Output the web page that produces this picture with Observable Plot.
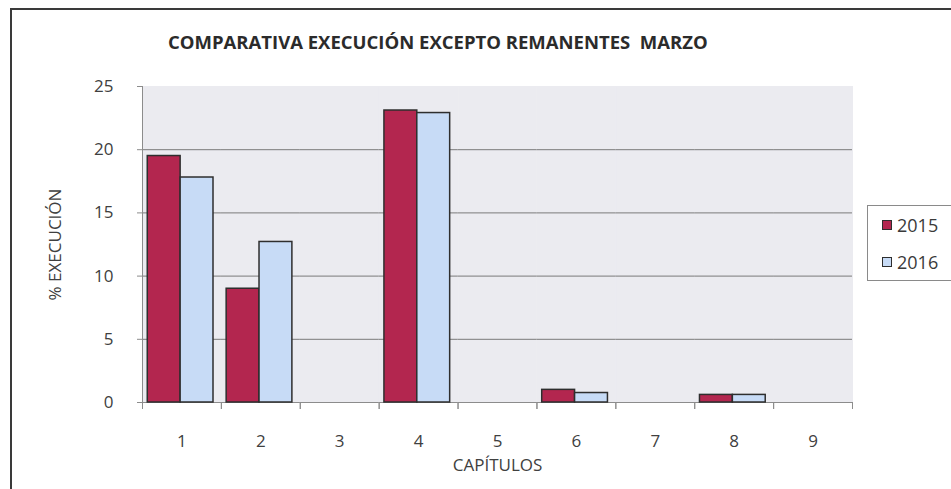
<!DOCTYPE html>
<html>
<head>
<meta charset="utf-8">
<script src="https://cdn.jsdelivr.net/npm/d3@7"></script>
<script src="https://cdn.jsdelivr.net/npm/@observablehq/plot@0.6"></script>
<style>
  html, body { margin: 0; padding: 0; background: #fff; }
  #wrap { position: relative; width: 951px; height: 489px; overflow: hidden; font-family: "Liberation Sans Narrow", "Open Sans", sans-serif; }
  #border { position: absolute; left: 10px; top: 8px; width: 1200px; height: 800px; border: 2px solid #3a3a3a; box-sizing: border-box; }
  #chart { position: absolute; left: 0; top: 0; }
  #title { position: absolute; left: 168px; top: 29px; font-weight: bold; font-size: 18.5px; color: #2b2b2b; white-space: pre; }
  #legend { position: absolute; left: 867px; top: 205px; width: 120px; height: 76px; border: 1px solid #8a8a8a; background: #fff; box-sizing: border-box; }
  .item { position: absolute; left: 14px; display: flex; align-items: center; font-size: 18px; color: #3a3a3a; font-family: "Open Sans", sans-serif; }
  .sw { width: 8px; height: 8px; border: 1.5px solid #2e2e2e; margin-right: 5px; }
</style>
</head>
<body>
<div id="wrap">
  <div id="border"></div>
  <div id="chart"></div>
  <div id="title"></div>
  <div id="legend"></div>
</div>
<script>
const title = "COMPARATIVA EXECUCIÓN EXCEPTO REMANENTES  MARZO";
const capitulos = [1, 2, 3, 4, 5, 6, 7, 8, 9];
const years = ["2015", "2016"];
const values2015 = [19.5, 9.0, null, 23.1, null, 1.0, null, 0.6, null];
const values2016 = [17.8, 12.7, null, 22.9, null, 0.75, null, 0.6, null];
const yTicks = [0, 5, 10, 15, 20, 25];
const colors = ["#b3264f", "#c7dbf6"];

const rows = [];
capitulos.forEach((c, i) => {
  if (values2015[i] != null) rows.push({cap: c, year: "2015", value: values2015[i]});
  if (values2016[i] != null) rows.push({cap: c, year: "2016", value: values2016[i]});
});

document.getElementById("title").textContent = title;

const plot = Plot.plot({
  width: 951,
  height: 489,
  marginLeft: 142,
  marginRight: 99,
  marginTop: 86,
  marginBottom: 87,
  style: {fontFamily: "'Open Sans', sans-serif", fontSize: "16px", color: "#3a3a3a", background: "transparent"},
  fx: {domain: capitulos, padding: 0, round: false},
  x: {domain: years, paddingInner: 0, paddingOuter: 0.2, align: 0.4, round: false, axis: null},
  y: {domain: [0, 25]},
  color: {domain: years, range: colors},
  marks: [
    Plot.frame({fill: "#ebebf0", stroke: "#ebebf0", strokeWidth: 1}),
    Plot.gridY([5, 10, 15, 20], {stroke: "#7a7a7a", strokeOpacity: 1}),
    Plot.ruleY(capitulos, {fx: d => d, y: 0, stroke: "#8c8c8c", strokeWidth: 1.2}),
    Plot.frame({anchor: "left", insetTop: 316, insetBottom: -6, stroke: "#8c8c8c"}),
    Plot.frame({anchor: "right", insetTop: 316, insetBottom: -6, stroke: "#8c8c8c"}),
    Plot.frame({anchor: "left", facetAnchor: "left", stroke: "#8c8c8c"}),
    Plot.barY(rows, {fx: "cap", x: "year", y: "value", fill: "year", stroke: "#2e2e2e", strokeWidth: 1.5}),
    Plot.axisY({ticks: yTicks, tickSize: 5, tickPadding: 24, stroke: "#8c8c8c", fill: "#404040", fontSize: 17,
      label: "% EXECUCIÓN", labelAnchor: "center", labelOffset: 94, labelArrow: "none"}),
    Plot.axisFx({anchor: "bottom", tickSize: 0, tickPadding: 32, fill: "#404040", fontSize: 17,
      label: "CAPÍTULOS", labelAnchor: "center", labelOffset: 68, labelArrow: "none"})
  ]
});
document.getElementById("chart").appendChild(plot);

const legend = document.getElementById("legend");
years.forEach((y, i) => {
  const item = document.createElement("div");
  item.className = "item";
  item.style.top = (7 + i * 37) + "px";
  const sw = document.createElement("div");
  sw.className = "sw";
  sw.style.background = colors[i];
  const t = document.createElement("span");
  t.textContent = y;
  item.appendChild(sw);
  item.appendChild(t);
  legend.appendChild(item);
});
</script>
</body>
</html>
